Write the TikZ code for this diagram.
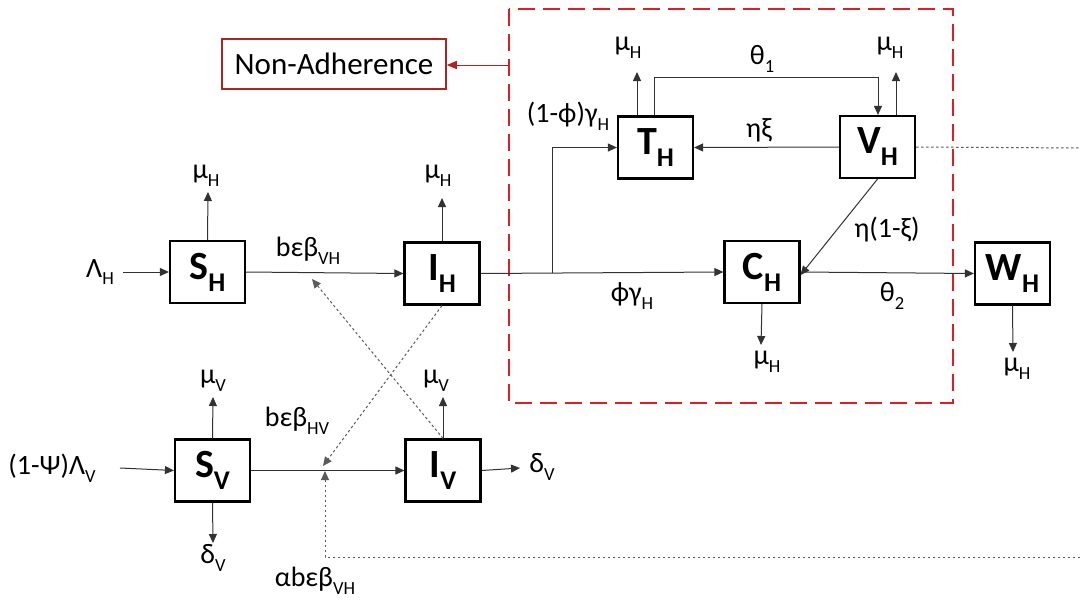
\documentclass[tikz,border=0pt]{standalone}
\usepackage{fontspec}
\setmainfont{Carlito}
\usetikzlibrary{arrows.meta}
\definecolor{lc}{RGB}{50,50,50}
\definecolor{redbox}{RGB}{222,30,36}
\definecolor{darkred}{RGB}{175,35,35}
\newcommand{\ls}[1]{\raisebox{-0.28em}{\fontsize{18.5}{18.5}\selectfont #1}}
\newcommand{\bxl}[2]{{\fontsize{40}{40}\selectfont\bfseries #1\raisebox{-0.3em}{\fontsize{27}{27}\selectfont #2}}}
\tikzset{
  comp/.style={draw=black, line width=2.2pt, minimum width=75pt, minimum height=62pt, inner sep=0pt},
  lab/.style={font=\fontsize{28}{32}\selectfont, inner sep=0pt},
  arr/.style={draw=lc, line width=1pt, -{Triangle[length=9pt,width=8pt]}},
  ln/.style={draw=lc, line width=1pt},
  dotl/.style={draw=lc!80, line width=1pt, dash pattern=on 2.5pt off 2.5pt},
  darr/.style={dotl, -{Triangle[length=9pt,width=8pt]}},
}
\begin{document}
\begin{tikzpicture}[x=1pt,y=-1pt]
\useasboundingbox (0,0) rectangle (1080,603);
% red dashed box
\draw[redbox, line width=2.7pt, dash pattern=on 17pt off 8pt] (509,9) rectangle (953,403);
% non-adherence
\node[draw=darkred, line width=1.5pt, minimum width=224pt, minimum height=50pt, inner sep=0pt, font=\fontsize{31}{34}\selectfont] (NA) at (334,64) {Non-Adherence};
\coordinate (rb) at (509,65);
\draw[darkred, line width=1pt, -{Triangle[length=10pt,width=8pt]}] (rb) -- (NA.east|-rb);

% compartments
\node[comp] (SH) at (207.5,272) {\bxl{S}{H}};
\node[comp] (IH) at (442,273.5) {\bxl{I}{H}};
\node[comp] (TH) at (655.5,147.5) {\bxl{T}{H}};
\node[comp] (VH) at (877.5,147) {\bxl{V}{H}};
\node[comp] (CH) at (762,272) {\bxl{C}{H}};
\node[comp] (WH) at (1012.5,273.5) {\bxl{W}{H}};
\node[comp] (SV) at (212.5,470.5) {\bxl{S}{V}};
\node[comp] (IV) at (443,470.5) {\bxl{I}{V}};

% labels
\node[lab] (lLH) at (100,272) {Λ\ls{H}};
\node[lab] (lmuSH) at (206,176) {μ\ls{H}};
\node[lab] (lb1) at (308,251) {bεβ\ls{VH}};
\node[lab] (lmuIH) at (438,176) {μ\ls{H}};
\node[lab] (lphg) at (568,116) {(1-ϕ)γ\ls{H}};
\node[lab] (lmuTH) at (628,48) {μ\ls{H}};
\node[lab] (lth1) at (762,59) {θ\ls{1}};
\node[lab] (lmuVH) at (890,48) {μ\ls{H}};
\node[lab] (letaxi) at (759,130) {ηξ};
\node[lab] (leta1) at (887,230) {η(1-ξ)};
\node[lab] (lpg) at (632,296) {ϕγ\ls{H}};
\node[lab] (lth2) at (892,296) {θ\ls{2}};
\node[lab] (lmuCH) at (767,362) {μ\ls{H}};
\node[lab] (lmuWH) at (1017,369) {μ\ls{H}};
\node[lab] (lLV) at (52,468) {(1-Ψ)Λ\ls{V}};
\node[lab] (lmuSV) at (213,381) {μ\ls{V}};
\node[lab] (ldSV) at (213,558) {δ\ls{V}};
\node[lab] (lb2) at (297,421) {bεβ\ls{HV}};
\node[lab] (lmuIV) at (436,381) {μ\ls{V}};
\node[lab] (ldIV) at (542,467) {δ\ls{V}};
\node[lab] (lab3) at (315,581) {αbεβ\ls{VH}};

% coordinates
\coordinate (inH) at (123,272);
\coordinate (inV) at (120,468);
\coordinate (eSH) at (208,192);
\coordinate (eIH) at (442,198);
\coordinate (eTH) at (637,72);
\coordinate (eVH) at (896,72);
\coordinate (eCH) at (761,345);
\coordinate (eWH) at (1013,352);
\coordinate (eSVu) at (213,397);
\coordinate (eSVd) at (213,543);
\coordinate (eIVu) at (443,397);
\coordinate (eIVr) at (520,468);
\coordinate (br) at (552,273);
\coordinate (tipA) at (312,279);
\coordinate (tipB) at (323,466);
\coordinate (tipC) at (325,471);
\coordinate (rE1) at (1080,148);
\coordinate (rE2) at (1080,557);
\coordinate (cB) at (325,557);

% human arrows
\draw[arr] (inH) -- (SH.west);
\draw[arr] (SH.north) -- (eSH);
\draw[arr] (SH.east) -- (IH.west);
\draw[arr] (IH.north) -- (eIH);
\draw[arr] (IH.east) -- (CH.west);
\draw[arr] (br) |- (TH.west);
\draw[arr] ([xshift=-18.5pt]TH.north) -- (eTH);
\draw[arr] ([xshift=-1.5pt]TH.north) -- ++(0,-38) -| ([xshift=0.5pt]VH.north);
\draw[arr] ([xshift=18.5pt]VH.north) -- (eVH);
\draw[arr] (VH.west) -- (TH.east);
\draw[arr] (VH.south) -- ([yshift=-3pt]CH.east);
\draw[arr] (CH.east) -- (WH.west);
\draw[arr] (CH.south) -- (eCH);
\draw[arr] (WH.south) -- (eWH);
\draw[dotl] (VH.east) -- (rE1);

% vector arrows
\draw[arr] (inV) -- (SV.west);
\draw[arr] (SV.north) -- (eSVu);
\draw[arr] (SV.south) -- (eSVd);
\draw[arr] (SV.east) -- (IV.west);
\draw[arr] (IV.north) -- (eIVu);
\draw[arr] (IV.east) -- (eIVr);

% dotted infection arrows
\draw[darr] (IV.north) -- (tipA);
\draw[darr] (IH.south) -- (tipB);
\draw[darr] (rE2) -- (cB) -- (tipC);
\end{tikzpicture}
\end{document}
